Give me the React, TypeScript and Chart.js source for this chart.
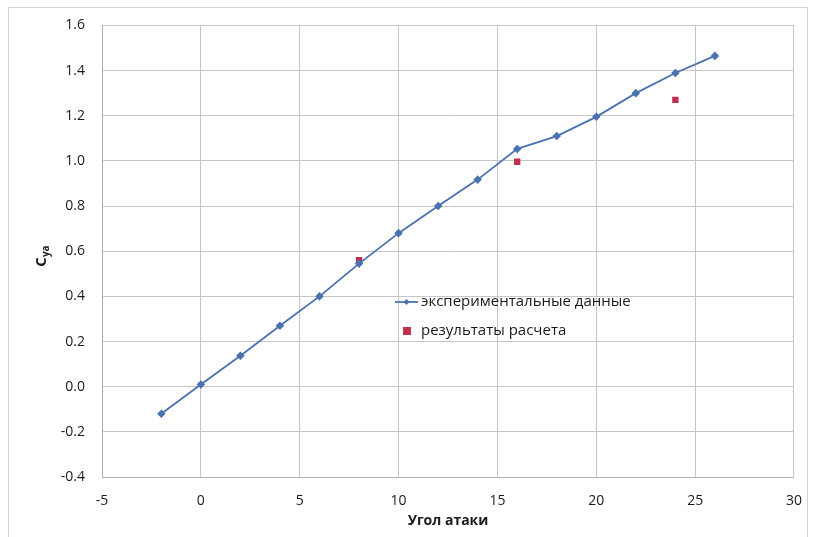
import React, { useEffect, useRef } from "react";
import { Chart, registerables } from "chart.js";

Chart.register(...registerables);

const expAngles = [-2, 0, 2, 4, 6, 8, 10, 12, 14, 16, 18, 20, 22, 24, 26];
const expValues = [-0.12, 0.01, 0.137, 0.27, 0.40, 0.545, 0.68, 0.80, 0.917, 1.053, 1.11, 1.195, 1.30, 1.389, 1.465];
const calcAngles = [8, 16, 24];
const calcValues = [0.56, 0.996, 1.27];
const expLabel = "экспериментальные данные";
const calcLabel = "результаты расчета";
const xTitle = "Угол атаки";
const yTitleMain = "C";
const yTitleSub = "ya";

const FONT = "'Open Sans', Lato, sans-serif";
const BLUE = "#4A72B0";
const RED = "#C0304D";
const TEXT = "#1a1a1a";

const overlay = {
  id: "overlay",
  afterDraw(chart: any) {
    const ctx = chart.ctx;
    ctx.save();
    // x title
    ctx.fillStyle = TEXT;
    ctx.font = `bold 14px ${FONT}`;
    ctx.textAlign = "center";
    ctx.textBaseline = "middle";
    const ca = chart.chartArea;
    ctx.fillText(xTitle, (ca.left + ca.right) / 2, 521);
    // y title
    ctx.save();
    ctx.translate(42, 256);
    ctx.rotate(-Math.PI / 2);
    ctx.font = `bold 15px ${FONT}`;
    const wC = ctx.measureText(yTitleMain).width;
    ctx.font = `bold 10px ${FONT}`;
    const wS = ctx.measureText(yTitleSub).width;
    const total = wC + wS;
    ctx.textAlign = "left";
    ctx.font = `bold 15px ${FONT}`;
    ctx.fillText(yTitleMain, -total / 2, 0);
    ctx.font = `bold 10px ${FONT}`;
    ctx.fillText(yTitleSub, -total / 2 + wC, 4);
    ctx.restore();
    // legend
    ctx.font = `15px ${FONT}`;
    ctx.textAlign = "left";
    ctx.textBaseline = "middle";
    const lx = 421;
    const y1 = 302;
    const y2 = 331;
    ctx.strokeStyle = BLUE;
    ctx.lineWidth = 1.8;
    ctx.beginPath();
    ctx.moveTo(395, y1);
    ctx.lineTo(418, y1);
    ctx.stroke();
    ctx.fillStyle = BLUE;
    ctx.beginPath();
    ctx.moveTo(406.5, y1 - 3);
    ctx.lineTo(409.5, y1);
    ctx.lineTo(406.5, y1 + 3);
    ctx.lineTo(403.5, y1);
    ctx.closePath();
    ctx.fill();
    ctx.fillStyle = TEXT;
    ctx.fillText(expLabel, lx, y1);
    ctx.fillStyle = RED;
    ctx.fillRect(403, y2 - 4, 8, 8);
    ctx.fillStyle = TEXT;
    ctx.fillText(calcLabel, lx, y2);
    ctx.restore();
  },
};

export default function App() {
  const ref = useRef<HTMLCanvasElement>(null);
  useEffect(() => {
    if (!ref.current) return;
    const chart = new Chart(ref.current, {
      type: "scatter",
      data: {
        datasets: [
          {
            label: expLabel,
            data: expAngles.map((x, i) => ({ x, y: expValues[i] })),
            showLine: true,
            borderColor: BLUE,
            backgroundColor: BLUE,
            borderWidth: 1.8,
            pointStyle: "rectRot",
            pointRadius: 3,
            pointHoverRadius: 3,
            tension: 0,
          },
          {
            label: calcLabel,
            data: calcAngles.map((x, i) => ({ x, y: calcValues[i] })),
            showLine: false,
            borderColor: RED,
            backgroundColor: RED,
            pointStyle: "rect",
            pointRadius: 4.5,
            pointBorderWidth: 0,
          },
        ],
      },
      options: {
        animation: false,
        responsive: false,
        maintainAspectRatio: false,
        layout: { padding: { left: 0, top: 23, right: 20, bottom: 0 } },
        plugins: { legend: { display: false }, tooltip: { enabled: false } },
        scales: {
          x: {
            type: "linear",
            min: -5,
            max: 30,
            ticks: { stepSize: 5, padding: 16, color: TEXT, font: { family: FONT, size: 14 } },
            grid: { color: "#c6c6c6", lineWidth: 1, drawTicks: false },
            border: { color: "#b0b0b0" },
            afterFit: (s: any) => { s.height = 60; },
          },
          y: {
            type: "linear",
            min: -0.4,
            max: 1.6,
            ticks: {
              stepSize: 0.2,
              padding: 17,
              color: TEXT,
              font: { family: FONT, size: 14 },
              callback: (v: any) => Number(v).toFixed(1),
            },
            grid: { color: "#c6c6c6", lineWidth: 1, drawTicks: false },
            border: { color: "#b0b0b0" },
            afterFit: (s: any) => { s.width = 102; },
          },
        },
      },
      plugins: [overlay],
    });
    return () => chart.destroy();
  }, []);
  return (
    <div style={{ position: "absolute", left: 0, top: 0, width: 818, height: 537, background: "#fff", overflow: "hidden" }}>
      <div style={{ position: "absolute", left: 8, top: 7, width: 800, height: 560, border: "1px solid #d4d4d4", boxSizing: "border-box" }} />
      <canvas ref={ref} width={818} height={537} style={{ position: "absolute", left: 0, top: 0 }} />
    </div>
  );
}
